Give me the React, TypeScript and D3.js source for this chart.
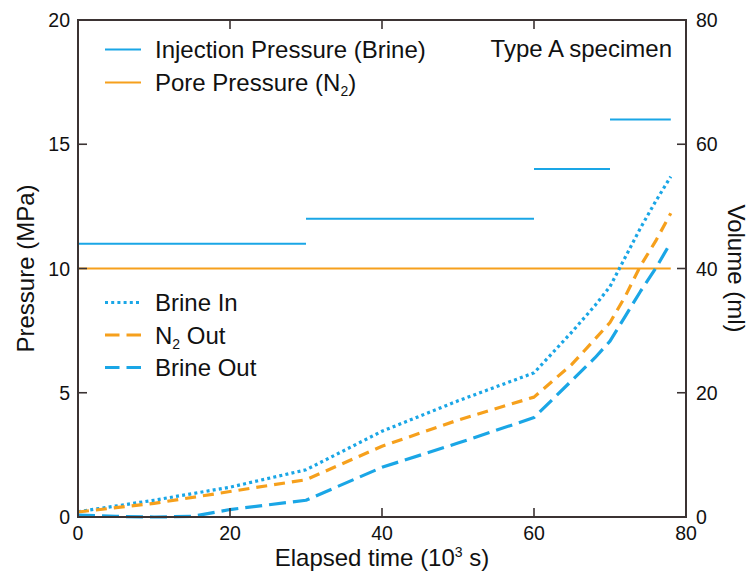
import React from "react";
import * as d3 from "d3";

const W = 753;
const H = 576;
const M = { left: 78, right: 686, top: 20, bottom: 517 };

const BLUE = "#1aa6e6";
const ORANGE = "#f6a01c";
const AXIS = "#3b3333";

// Injection pressure steps (MPa): [start, end, value]
const injStart = [0, 30, 60, 70];
const injEnd = [30, 60, 70, 78];
const injValue = [11, 12, 14, 16];

// Pore pressure (MPa)
const poreX = [0, 78];
const poreValue = 10;

// Volume curves (ml)
const timeBrineIn = [0, 10, 20, 30, 40, 50, 60, 65, 68, 70, 72, 74, 76, 78];
const brineIn = [0.85, 2.7, 4.8, 7.6, 13.8, 18.7, 23.2, 29.8, 34.0, 37.1, 41.8, 46.5, 50.8, 54.8];

const timeN2Out = [0, 10, 20, 30, 40, 50, 60, 65, 68, 70, 72, 74, 76, 78];
const n2Out = [0.8, 2.2, 4.1, 6.0, 11.4, 15.6, 19.3, 24.6, 28.6, 31.3, 35.5, 40.4, 44.4, 48.9];

const timeBrineOut = [0, 5, 10, 15, 20, 30, 40, 50, 60, 65, 68, 70, 72, 74, 76, 78];
const brineOut = [0.3, 0.1, 0, 0.1, 1.2, 2.7, 8.0, 11.9, 16.0, 22.0, 25.6, 28.3, 32.3, 36.3, 40.0, 44.2];

const xTicks = [0, 20, 40, 60, 80];
const yLeftTicks = [0, 5, 10, 15, 20];
const yRightTicks = [0, 20, 40, 60, 80];

const FONT = "'Liberation Sans', Arial, Helvetica, sans-serif";

export default function App() {
  const x = d3.scaleLinear().domain([0, 80]).range([M.left, M.right]);
  const yP = d3.scaleLinear().domain([0, 20]).range([M.bottom, M.top]);
  const yV = d3.scaleLinear().domain([0, 80]).range([M.bottom, M.top]);

  const line = d3
    .line<[number, number]>()
    .x((d) => x(d[0]))
    .y((d) => yV(d[1]))
    .curve(d3.curveLinear);

  const zip = (a: number[], b: number[]) => a.map((v, i) => [v, b[i]] as [number, number]);

  const tickLen = 9;
  const tickFont = 19.5;
  const bigFont = 24;

  return (
    <svg width={W} height={H} style={{ position: "absolute", left: 0, top: 0 }} fontFamily={FONT}>
      <rect x={0} y={0} width={W} height={H} fill="#fff" />

      {/* Pore pressure */}
      <line x1={x(poreX[0])} x2={x(poreX[1])} y1={yP(poreValue)} y2={yP(poreValue)} stroke={ORANGE} strokeWidth={2} />
      {/* Injection pressure */}
      {injStart.map((s, i) => (
        <line key={"inj" + i} x1={x(s)} x2={x(injEnd[i])} y1={yP(injValue[i])} y2={yP(injValue[i])} stroke={BLUE} strokeWidth={2} />
      ))}

      {/* Volume curves */}
      <path d={line(zip(timeBrineIn, brineIn)) || ""} fill="none" stroke={BLUE} strokeWidth={3.2} strokeDasharray="3 3.2" strokeLinejoin="round" />
      <path d={line(zip(timeN2Out, n2Out)) || ""} fill="none" stroke={ORANGE} strokeWidth={3.2} strokeDasharray="11 7" strokeLinejoin="round" />
      <path d={line(zip(timeBrineOut, brineOut)) || ""} fill="none" stroke={BLUE} strokeWidth={3.2} strokeDasharray="17 7" strokeLinejoin="round" />

      {/* Frame */}
      <rect x={M.left} y={M.top} width={M.right - M.left} height={M.bottom - M.top} fill="none" stroke={AXIS} strokeWidth={2} />

      {/* Bottom ticks */}
      {xTicks.map((t) => (
        <g key={"xb" + t}>
          {t > 0 && t < 80 && (
            <>
              <line x1={x(t)} x2={x(t)} y1={M.bottom} y2={M.bottom - tickLen} stroke={AXIS} strokeWidth={1.6} />
              <line x1={x(t)} x2={x(t)} y1={M.top} y2={M.top + tickLen} stroke={AXIS} strokeWidth={1.6} />
            </>
          )}
          <text x={x(t)} y={540} textAnchor="middle" fontSize={tickFont} fill="#111">
            {t}
          </text>
        </g>
      ))}

      {/* Left ticks */}
      {yLeftTicks.map((t) => (
        <g key={"yl" + t}>
          {t > 0 && t < 20 && (
            <line x1={M.left} x2={M.left + tickLen} y1={yP(t)} y2={yP(t)} stroke={AXIS} strokeWidth={1.6} />
          )}
          <text x={70} y={yP(t)} dy="0.36em" textAnchor="end" fontSize={tickFont} fill="#111">
            {t}
          </text>
        </g>
      ))}

      {/* Right ticks */}
      {yRightTicks.map((t) => (
        <g key={"yr" + t}>
          {t > 0 && t < 80 && (
            <line x1={M.right} x2={M.right - tickLen} y1={yV(t)} y2={yV(t)} stroke={AXIS} strokeWidth={1.6} />
          )}
          <text x={696} y={yV(t)} dy="0.36em" textAnchor="start" fontSize={tickFont} fill="#111">
            {t}
          </text>
        </g>
      ))}

      {/* Axis titles */}
      <text x={(M.left + M.right) / 2} y={566} textAnchor="middle" fontSize={bigFont} fill="#111">
        Elapsed time (10
        <tspan fontSize={14} dy={-9}>3</tspan>
        <tspan dy={9}> s)</tspan>
      </text>
      <text transform={`translate(25,${(M.top + M.bottom) / 2}) rotate(-90)`} textAnchor="middle" dy="0.36em" fontSize={bigFont} fill="#111">
        Pressure (MPa)
      </text>
      <text transform={`translate(737,${(M.top + M.bottom) / 2}) rotate(90)`} textAnchor="middle" dy="0.36em" fontSize={bigFont} fill="#111">
        Volume (ml)
      </text>

      {/* Top legend */}
      <line x1={105} x2={141} y1={49.5} y2={49.5} stroke={BLUE} strokeWidth={2} />
      <text x={155} y={49.5} dy="0.36em" fontSize={bigFont} fill="#111">
        Injection Pressure (Brine)
      </text>
      <line x1={105} x2={141} y1={82.5} y2={82.5} stroke={ORANGE} strokeWidth={2} />
      <text x={155} y={82.5} dy="0.36em" fontSize={bigFont} fill="#111">
        Pore Pressure (N
        <tspan fontSize={14} dy={5}>2</tspan>
        <tspan dy={-5}>)</tspan>
      </text>
      <text x={672} y={48.5} dy="0.36em" textAnchor="end" fontSize={bigFont} fill="#111">
        Type A specimen
      </text>

      {/* Bottom legend */}
      <line x1={105} x2={141} y1={302.5} y2={302.5} stroke={BLUE} strokeWidth={3.2} strokeDasharray="3 3.2" />
      <text x={155} y={302.5} dy="0.36em" fontSize={bigFont} fill="#111">
        Brine In
      </text>
      <line x1={105} x2={141} y1={335} y2={335} stroke={ORANGE} strokeWidth={3.2} strokeDasharray="14.5 7" />
      <text x={155} y={335} dy="0.36em" fontSize={bigFont} fill="#111">
        N
        <tspan fontSize={14} dy={5}>2</tspan>
        <tspan dy={-5}> Out</tspan>
      </text>
      <line x1={105} x2={141} y1={367.5} y2={367.5} stroke={BLUE} strokeWidth={3.2} strokeDasharray="14.5 7" />
      <text x={155} y={367.5} dy="0.36em" fontSize={bigFont} fill="#111">
        Brine Out
      </text>
    </svg>
  );
}
